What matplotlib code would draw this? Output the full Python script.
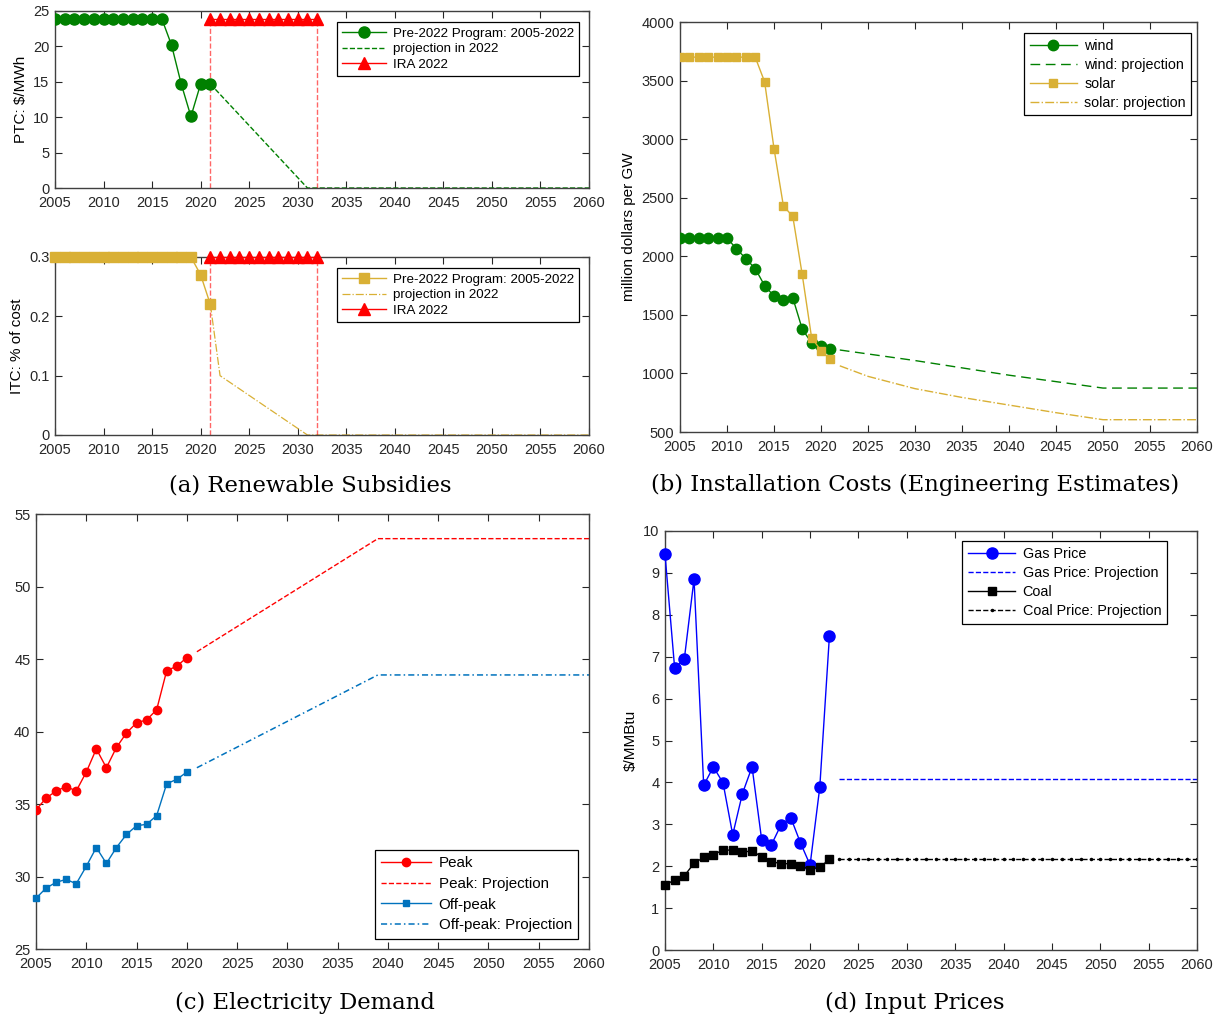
import numpy as np
import matplotlib
matplotlib.use("Agg")
import matplotlib.pyplot as plt

plt.rcParams['font.family'] = ['Liberation Sans', 'DejaVu Sans']
plt.rcParams['font.size'] = 10.5

W, H = 1229, 1021

# ---- (a) subsidies ----
hist_years = np.arange(2005, 2022)
ptc_hist = [23.9] * 12 + [20.2, 14.7, 10.1, 14.7, 14.7]
ptc_proj_years = [2021, 2031, 2060]
ptc_proj = [14.7, 0, 0]
ira_years = np.arange(2021, 2033)
ira_ptc = [23.9] * 12

itc_hist = [0.3] * 15 + [0.27, 0.22]
itc_proj_years = [2021, 2022, 2031, 2060]
itc_proj = [0.22, 0.1, 0, 0]
ira_itc = [0.3] * 12

# ---- (b) installation costs ----
cost_years = np.arange(2005, 2022)
wind_cost = [2155, 2155, 2155, 2155, 2155, 2155, 2065, 1980, 1895, 1750, 1660,
             1625, 1645, 1380, 1260, 1235, 1210]
solar_cost = [3700] * 9 + [3490, 2920, 2430, 2340, 1845, 1305, 1195, 1120]
wind_proj_years = [2022, 2030, 2040, 2050, 2060]
wind_proj = [1200, 1110, 985, 875, 875]
solar_proj_years = [2022, 2025, 2030, 2035, 2040, 2045, 2050, 2060]
solar_proj = [1065, 975, 870, 795, 730, 665, 605, 605]

# ---- (c) demand ----
dem_years = np.arange(2005, 2021)
peak = [34.6, 35.4, 35.9, 36.2, 35.9, 37.2, 38.8, 37.5, 38.9, 39.9, 40.6, 40.8,
        41.5, 44.2, 44.5, 45.1]
offpeak = [28.5, 29.2, 29.6, 29.8, 29.5, 30.7, 32.0, 30.9, 32.0, 32.9, 33.5,
           33.6, 34.2, 36.4, 36.7, 37.2]
dem_proj_years = [2021, 2039, 2060]
peak_proj = [45.5, 53.3, 53.3]
offpeak_proj = [37.5, 43.9, 43.9]

# ---- (d) input prices ----
price_years = np.arange(2005, 2023)
gas = [9.45, 6.72, 6.95, 8.85, 3.93, 4.37, 3.99, 2.75, 3.73, 4.37, 2.62, 2.51,
       2.99, 3.16, 2.56, 2.03, 3.88, 7.5]
coal = [1.54, 1.68, 1.77, 2.07, 2.21, 2.27, 2.39, 2.38, 2.33, 2.37, 2.22, 2.11,
        2.06, 2.06, 2.01, 1.92, 1.98, 2.16]
proj_price_years = np.arange(2023, 2061)
gas_proj = [4.08] * len(proj_price_years)
coal_proj = [2.16] * len(proj_price_years)

GREEN = '#008000'
GOLD = '#D9B035'
MBLUE = '#0072BD'
AXC = '#404040'

fig = plt.figure(figsize=(W / 100, H / 100), dpi=100)


def make_ax(l, r, t, b):
    ax = fig.add_axes([l / W, 1 - b / H, (r - l) / W, (b - t) / H])
    ax.tick_params(direction='in', top=True, right=True, length=5,
                   colors='#262626', labelsize=10.5)
    ax.tick_params(axis='x', pad=6)
    ax.tick_params(axis='y', pad=4)
    for s in ax.spines.values():
        s.set_color(AXC)
        s.set_linewidth(1.0)
    ax.set_xlim(2005, 2060)
    ax.set_xticks(np.arange(2005, 2061, 5))
    return ax


def legend(ax, x0, y0, fs, **kw):
    leg = ax.legend(loc='upper left', bbox_to_anchor=(x0 / W, 1 - y0 / H),
                    bbox_transform=fig.transFigure, borderaxespad=0,
                    fancybox=False, edgecolor='black', framealpha=1,
                    fontsize=fs, handlelength=3.3, handletextpad=0.5, **kw)
    leg.get_frame().set_linewidth(0.9)
    return leg


# (a) top: PTC
ax1 = make_ax(55, 589, 11, 188)
ax1.plot(hist_years, ptc_hist, '-o', color=GREEN, ms=8, lw=1,
         label='Pre-2022 Program: 2005-2022', zorder=3)
ax1.plot(ptc_proj_years, ptc_proj, '--', color=GREEN, lw=1, label='projection in 2022')
ax1.plot(ira_years, ira_ptc, '-^', color='red', ms=9, lw=1, label='IRA 2022',
         clip_on=False, zorder=4)
for yr in (ira_years[0], ira_years[-1]):
    ax1.axvline(yr, color='red', ls='--', lw=1, alpha=0.6, ymax=ira_ptc[0] / 25)
ax1.set_ylim(0, 25)
ax1.set_yticks(np.arange(0, 26, 5))
ax1.set_ylabel('PTC: \\$/MWh', fontsize=11)
legend(ax1, 337, 22, 9.6, labelspacing=0.25)

# (a) bottom: ITC
ax2 = make_ax(55, 589, 257, 435)
ax2.plot(hist_years, itc_hist, '-s', color=GOLD, ms=6.5, lw=1,
         label='Pre-2022 Program: 2005-2022', clip_on=False, zorder=3)
ax2.plot(itc_proj_years, itc_proj, '-.', color=GOLD, lw=0.9, label='projection in 2022')
ax2.plot(ira_years, ira_itc, '-^', color='red', ms=9, lw=1, label='IRA 2022',
         clip_on=False, zorder=4)
for yr in (ira_years[0], ira_years[-1]):
    ax2.axvline(yr, color='red', ls='--', lw=1, alpha=0.6)
ax2.set_ylim(0, 0.3)
ax2.set_yticks([0, 0.1, 0.2, 0.3])
ax2.set_yticklabels(['0', '0.1', '0.2', '0.3'])
ax2.set_ylabel('ITC: % of cost', fontsize=11)
legend(ax2, 337, 268, 9.6, labelspacing=0.25)

# (b) installation costs
ax3 = make_ax(680, 1197, 22, 432)
ax3.plot(cost_years, wind_cost, '-o', color=GREEN, ms=7.5, lw=1, label='wind', zorder=3)
ax3.plot(wind_proj_years, wind_proj, '--', color=GREEN, lw=1, dashes=(7, 4),
         label='wind: projection')
ax3.plot(cost_years, solar_cost, '-s', color=GOLD, ms=6, lw=1, label='solar', zorder=3)
ax3.plot(solar_proj_years, solar_proj, '-.', color=GOLD, lw=1,
         label='solar: projection')
ax3.set_ylim(500, 4000)
ax3.set_yticks(np.arange(500, 4001, 500))
ax3.set_ylabel('million dollars per GW', fontsize=11)
legend(ax3, 1024, 33, 10.3, labelspacing=0.35)

# (c) electricity demand
ax4 = make_ax(36, 589, 514, 949)
ax4.plot(dem_years, peak, '-o', color='red', ms=6, lw=1, label='Peak', zorder=3)
ax4.plot(dem_proj_years, peak_proj, '--', color='red', lw=1, label='Peak: Projection')
ax4.plot(dem_years, offpeak, '-s', color=MBLUE, ms=5, lw=1, label='Off-peak',
         clip_on=False, zorder=3)
ax4.plot(dem_proj_years, offpeak_proj, color=MBLUE, lw=1.1,
         ls=(0, (4, 2, 1, 2)), label='Off-peak: Projection')
ax4.set_ylim(25, 55)
ax4.set_yticks(np.arange(25, 56, 5))
legend(ax4, 375, 850, 10.9, labelspacing=0.45)

# (d) input prices
ax5 = make_ax(665, 1197, 531, 950)
ax5.plot(price_years, gas, '-o', color='blue', ms=8, lw=1, label='Gas Price',
         clip_on=False, zorder=3)
ax5.plot(proj_price_years, gas_proj, '--', color='blue', lw=1,
         label='Gas Price: Projection')
ax5.plot(price_years, coal, '-s', color='black', ms=6, lw=1, label='Coal',
         clip_on=False, zorder=3)
ax5.plot(proj_price_years, coal_proj, '--', color='black', lw=1, marker='.', ms=3,
         label='Coal Price: Projection')
ax5.set_ylim(0, 10)
ax5.set_yticks(np.arange(0, 11, 1))
ax5.set_ylabel('\\$/MMBtu', fontsize=11)
legend(ax5, 962, 541, 10.4, labelspacing=0.35)

cap = dict(fontsize=16.4, family='DejaVu Serif', ha='center', va='center')
fig.text(310 / W, 1 - 485 / H, '(a) Renewable Subsidies', **cap)
fig.text(915 / W, 1 - 485 / H, '(b) Installation Costs (Engineering Estimates)', **cap)
fig.text(305 / W, 1 - 1003 / H, '(c) Electricity Demand', **cap)
fig.text(915 / W, 1 - 1003 / H, '(d) Input Prices', **cap)

fig.savefig('out.png', dpi=100)
